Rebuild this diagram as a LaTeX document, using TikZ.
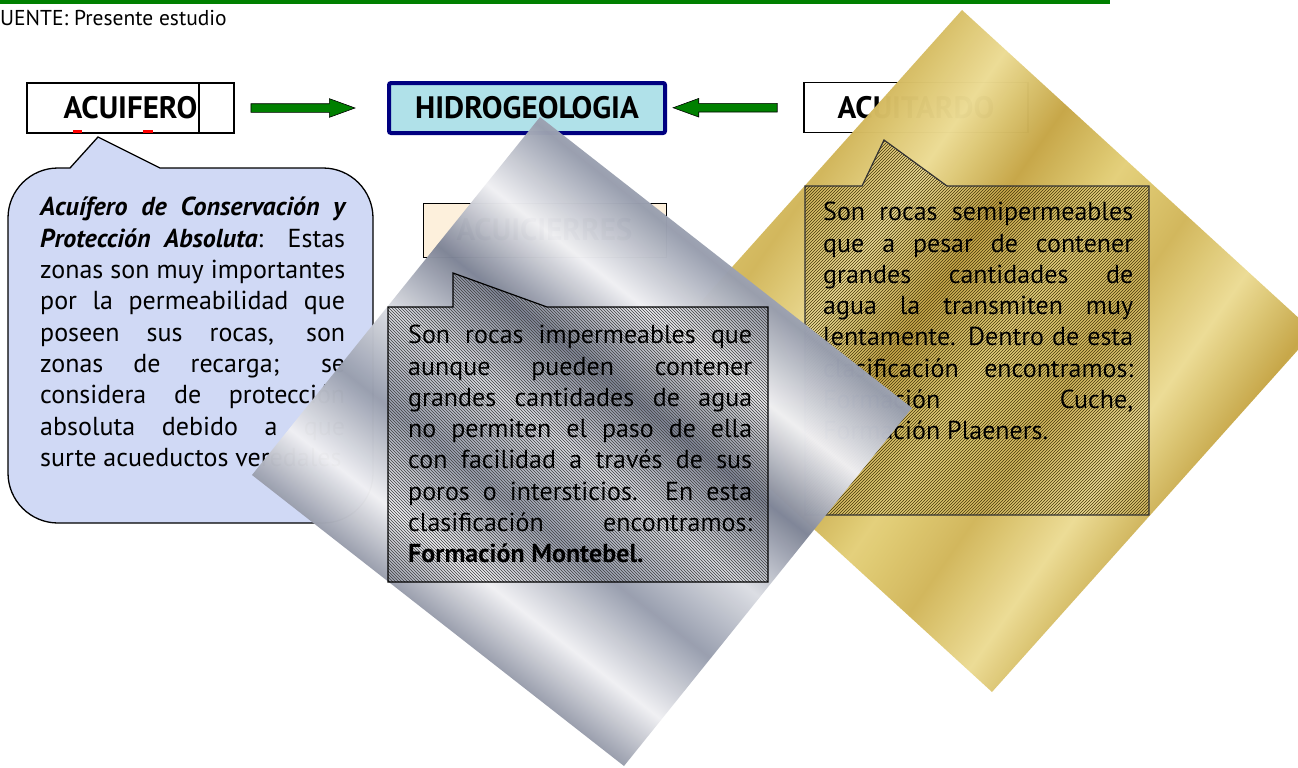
\documentclass[tikz,border=0pt]{standalone}
\usepackage{fontspec}
\setmainfont{PT Sans}
\usepackage{tikz}
\usetikzlibrary{shapes.arrows, patterns}

\definecolor{linegreen}{RGB}{0,128,0}
\definecolor{arrowgreen}{RGB}{0,128,0}
\definecolor{hidroborder}{RGB}{0,0,128}
\definecolor{hidrofill}{RGB}{176,225,233}
\definecolor{acuiferofill}{RGB}{208,217,245}
\definecolor{creamfill}{RGB}{253,240,220}
\definecolor{hatchgold}{RGB}{70,55,10}
\definecolor{silverA}{RGB}{240,240,243}
\definecolor{silverB}{RGB}{126,132,150}
\definecolor{silverC}{RGB}{220,222,228}
\definecolor{silverD}{RGB}{152,158,174}
\definecolor{goldA}{RGB}{236,220,148}
\definecolor{goldB}{RGB}{198,166,70}
\definecolor{goldC}{RGB}{228,208,122}
\definecolor{goldD}{RGB}{210,182,90}

\pgfdeclareverticalshading{silverband}{100bp}{color(0bp)=(silverA); color(25bp)=(silverA);
  color(31bp)=(silverB); color(37bp)=(silverA); color(43bp)=(silverD); color(49bp)=(silverC);
  color(55bp)=(silverB); color(61bp)=(silverA); color(67bp)=(silverD); color(75bp)=(silverC);
  color(100bp)=(silverC)}
\pgfdeclareverticalshading{goldband}{100bp}{color(0bp)=(goldA); color(25bp)=(goldA);
  color(31bp)=(goldB); color(37bp)=(goldA); color(43bp)=(goldD); color(49bp)=(goldC);
  color(55bp)=(goldB); color(61bp)=(goldA); color(67bp)=(goldD); color(75bp)=(goldC);
  color(100bp)=(goldC)}

\tikzstyle{titlebox} = [draw=black, line width=1.2pt, fill=white, minimum width=207pt, minimum height=50pt, inner sep=0pt, font=\fontsize{31}{33}\selectfont\bfseries]
\tikzstyle{greenarrow} = [single arrow, draw=black, line width=0.6pt, fill=arrowgreen, minimum height=104pt, text height=8pt, text depth=0pt, inner sep=0pt, single arrow head extend=5pt, single arrow tip angle=40]
\tikzstyle{bodytext} = [anchor=north west, inner sep=0pt, align=justify, font=\fontsize{26}{31.3}\selectfont]

\begin{document}
\begin{tikzpicture}[x=1pt, y=-1pt]
\clip (0,0) rectangle (1298,768);
\fill[white] (0,0) rectangle (1298,768);
\fill[linegreen] (0,0) rectangle (1110,4);
\node[anchor=west, inner sep=0pt, font=\fontsize{21.5}{24}\selectfont] (fuente) at (0,18) {UENTE: Presente estudio};

% cajas de arriba
\node[titlebox] (acuifero) at (130.5,108) {ACUIFERO};
\draw[line width=1.2pt] (199,83) -- (199,133);
\fill[red] (73,130) rectangle (82,133);
\fill[red] (143,130) rectangle (153,133);
\node[titlebox, draw=hidroborder, line width=4pt, rounded corners=2pt, fill=hidrofill, minimum width=276pt] (hidro) at (527,108) {HIDROGEOLOGIA};
\node[titlebox, minimum width=224pt] (acuitardo) at (916,107.5) {ACUITARDO};

\path (acuifero) -- (hidro) node[greenarrow, pos=0.41] (flechaizq) {};
\path (acuitardo) -- (hidro) node[greenarrow, shape border rotate=180, pos=0.53] (flechader) {};

% globo del acuifero
\draw[line width=1.3pt, fill=acuiferofill] (70,168) -- (98,137) -- (160,168) -- (323,168)
  arc[start angle=270, end angle=360, radius=50] -- (373,473)
  arc[start angle=0, end angle=90, radius=50] -- (58,523)
  arc[start angle=90, end angle=180, radius=50] -- (8,218)
  arc[start angle=180, end angle=270, radius=50] -- cycle;
\node[bodytext, text width=305pt] (textoacuifero) at (40,197) {{\bfseries\itshape Acuífero de Conservación y\linebreak Protección Absoluta}: Estas\linebreak zonas son muy importantes\linebreak por la permeabilidad que\linebreak poseen sus rocas, son\linebreak zonas de recarga; se\linebreak considera de protección\linebreak absoluta debido a que\linebreak surte acueductos veredales};

\node[titlebox, fill=creamfill, line width=1pt, minimum width=243pt, minimum height=54pt] (acuicierres) at (544.5,230) {ACUICIERRES};

% rombo dorado
\shade[shading=goldband, shading angle=55, fill opacity=0.98] (962,10) -- (1314,332) -- (992,692) -- (640,370) -- cycle;
\draw[line width=1.2pt, draw=black!80, pattern=north east lines, pattern color=hatchgold] (805,186) -- (862,186) -- (884,140) -- (947,186) -- (1149,186) -- (1149,515) -- (805,515) -- cycle;
\node[bodytext, text width=310pt] (textoacuitardo) at (823,202) {Son rocas semipermeables\linebreak que a pesar de contener\linebreak grandes cantidades de\linebreak agua la transmiten muy\linebreak lentamente. Dentro de esta\linebreak clasificación encontramos:\linebreak Formación Cuche,\linebreak Formación Plaeners.};

% rombo plateado
\shade[shading=silverband, shading angle=-38, fill opacity=0.98] (540,117) -- (912,408) -- (624,766) -- (252,475) -- cycle;
\draw[line width=1.2pt, pattern=north west lines, pattern color=black!75] (388,307) -- (453,307) -- (453,273) -- (547,307) -- (768,307) -- (768,582) -- (388,582) -- cycle;
\node[bodytext, text width=344pt] (textoacuicierres) at (408,325) {Son rocas impermeables que\linebreak aunque pueden contener\linebreak grandes cantidades de agua\linebreak no permiten el paso de ella\linebreak con facilidad a través de sus\linebreak poros o intersticios. En esta\linebreak clasificación encontramos:\linebreak {\bfseries Formación Montebel.}};
\end{tikzpicture}
\end{document}
